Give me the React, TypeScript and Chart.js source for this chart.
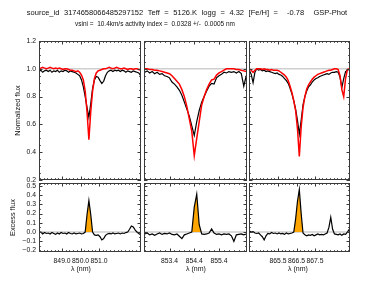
import React, { useEffect, useRef } from "react";
import { Chart, registerables } from "chart.js";

Chart.register(...registerables);

const W = 374;
const H = 281;
const FONT = "'Liberation Sans', Arial, Helvetica, sans-serif";

// ---------------- Wavelength grids (nm) ----------------
const WL_850 = [
  847.75, 847.85, 847.95, 848.05, 848.15, 848.25, 848.35, 848.45, 848.55, 848.65,
  848.75, 848.85, 848.95, 849.05, 849.15, 849.25, 849.35, 849.45, 849.55, 849.65,
  849.75, 849.85, 849.95, 850.05, 850.15, 850.25, 850.35, 850.45, 850.55, 850.65,
  850.75, 850.85, 850.95, 851.05, 851.15, 851.25, 851.35, 851.45, 851.55, 851.65,
  851.75, 851.85, 851.95, 852.05, 852.15, 852.25, 852.35, 852.45, 852.55, 852.65,
  852.75, 852.85, 852.95, 853.05, 853.15, 853.25,
];
const WL_854 = [
  852.4, 852.5, 852.6, 852.7, 852.8, 852.9, 853.0, 853.1, 853.2, 853.3,
  853.4, 853.5, 853.6, 853.7, 853.8, 853.9, 854.0, 854.1, 854.2, 854.3,
  854.4, 854.5, 854.6, 854.7, 854.8, 854.9, 855.0, 855.1, 855.2, 855.3,
  855.4, 855.5, 855.6, 855.7, 855.8, 855.9, 856.0, 856.1, 856.2, 856.3,
  856.4, 856.5,
];
const WL_866 = [
  863.95, 864.05, 864.15, 864.25, 864.35, 864.45, 864.55, 864.65, 864.75, 864.85,
  864.95, 865.05, 865.15, 865.25, 865.35, 865.45, 865.55, 865.65, 865.75, 865.85,
  865.95, 866.05, 866.15, 866.25, 866.35, 866.45, 866.55, 866.65, 866.75, 866.85,
  866.95, 867.05, 867.15, 867.25, 867.35, 867.45, 867.55, 867.65, 867.75, 867.85,
  867.95, 868.05, 868.15, 868.25, 868.35, 868.45, 868.55, 868.65, 868.75, 868.85,
  868.95, 869.05, 869.15, 869.25, 869.35, 869.45,
];

// ---------------- Normalized flux: observed (black) ----------------
const OBS_850 = [
  0.98, 0.99, 0.975, 0.985, 0.99, 0.98, 0.99, 0.975, 0.985, 0.98,
  0.99, 0.975, 0.985, 0.98, 0.99, 0.985, 0.975, 0.985, 0.98, 0.975,
  0.97, 0.96, 0.95, 0.92, 0.87, 0.80, 0.72, 0.65, 0.75, 0.86,
  0.92, 0.945, 0.94, 0.915, 0.895, 0.91, 0.95, 0.975, 0.985, 0.99,
  0.98, 0.99, 0.985, 0.99, 0.98, 0.99, 0.985, 0.975, 0.985, 0.98,
  0.975, 0.985, 0.98, 0.975, 0.97, 0.95,
];
const OBS_854 = [
  0.975, 0.985, 0.97, 0.98, 0.965, 0.975, 0.96, 0.965, 0.95, 0.945,
  0.935, 0.905, 0.89, 0.87, 0.845, 0.81, 0.76, 0.71, 0.66, 0.59,
  0.52, 0.62, 0.70, 0.76, 0.80, 0.84, 0.875, 0.895, 0.89, 0.935,
  0.95, 0.96, 0.975, 0.97, 0.98, 0.975, 0.98, 0.97, 0.98, 0.965,
  0.875, 0.95,
];
const OBS_866 = [
  0.99, 0.96, 0.90, 0.975, 1.0, 0.99, 0.995, 0.985, 0.99, 0.98,
  0.985, 0.98, 0.975, 0.97, 0.965, 0.97, 0.96, 0.955, 0.945, 0.93,
  0.915, 0.895, 0.86, 0.82, 0.77, 0.71, 0.63, 0.53, 0.63, 0.74,
  0.80, 0.84, 0.87, 0.885, 0.905, 0.92, 0.93, 0.935, 0.945, 0.95,
  0.955, 0.96, 0.965, 0.96, 0.97, 0.975, 0.975, 0.98, 0.975, 0.94,
  0.865, 0.93, 0.98, 0.99, 0.995, 1.0,
];

// ---------------- Normalized flux: model (red) ----------------
const MOD_850 = [
  1.0, 1.005, 1.01, 1.005, 1.0, 1.005, 1.01, 1.005, 1.0, 1.005,
  1.0, 1.005, 1.0, 0.995, 1.0, 1.0, 0.995, 0.99, 0.99, 0.985,
  0.98, 0.985, 0.975, 0.955, 0.92, 0.84, 0.69, 0.49, 0.69, 0.84,
  0.93, 0.97, 0.985, 0.99, 0.995, 1.0, 1.0, 1.005, 1.01, 1.005,
  1.0, 1.005, 1.01, 1.005, 1.0, 1.0, 1.005, 1.0, 0.995, 1.0,
  1.0, 0.995, 1.0, 1.0, 0.995, 0.99,
];
const MOD_854 = [
  1.0, 1.0, 0.995, 0.995, 0.99, 0.99, 0.985, 0.98, 0.975, 0.97,
  0.965, 0.95, 0.93, 0.91, 0.89, 0.85, 0.80, 0.73, 0.64, 0.55,
  0.375, 0.50, 0.62, 0.74, 0.80, 0.85, 0.89, 0.92, 0.925, 0.955,
  0.97, 0.98, 0.99, 1.0, 1.0, 1.0, 1.0, 0.995, 0.995, 0.99,
  0.985, 0.98,
];
const MOD_866 = [
  1.0, 0.99, 0.975, 0.99, 1.0, 1.0, 1.0, 0.995, 1.0, 0.995,
  0.995, 0.99, 0.995, 0.99, 0.99, 0.99, 0.985, 0.975, 0.965, 0.955,
  0.94, 0.915, 0.875, 0.83, 0.77, 0.70, 0.57, 0.37, 0.58, 0.72,
  0.80, 0.855, 0.885, 0.905, 0.925, 0.94, 0.95, 0.96, 0.965, 0.97,
  0.975, 0.98, 0.985, 0.99, 0.99, 0.995, 1.0, 1.0, 0.995, 0.95,
  0.85, 0.80, 0.93, 0.995, 1.0, 1.0,
];

// ---------------- Excess flux (black, lower panels) ----------------
const EXC_850 = [
  -0.01, 0.0, -0.02, -0.005, -0.015, -0.01, -0.02, -0.005, -0.015, -0.025,
  -0.01, -0.02, -0.005, -0.015, -0.01, -0.02, -0.005, -0.015, -0.02, -0.01,
  -0.02, -0.015, -0.01, -0.02, -0.015, 0.0, 0.19, 0.34, 0.19, 0.0,
  -0.03, -0.035, -0.03, -0.05, -0.085, -0.07, -0.035, -0.02, -0.015, -0.02,
  -0.01, -0.02, -0.015, -0.01, -0.02, -0.01, -0.015, -0.005, 0.0, 0.03,
  0.065, 0.055, 0.025, 0.0, -0.015, -0.03,
];
const EXC_854 = [
  -0.02, -0.01, -0.03, -0.02, -0.035, -0.02, -0.01, -0.025, -0.015, -0.02,
  -0.01, -0.025, -0.03, -0.02, -0.045, -0.07, -0.03, -0.02, -0.01, 0.0,
  0.27, 0.41, 0.08, -0.02, -0.025, -0.02, -0.01, 0.035, -0.01, -0.025,
  -0.02, -0.03, -0.02, -0.025, -0.02, -0.04, -0.1, -0.03, -0.025, -0.02,
  -0.03, -0.02,
];
const EXC_866 = [
  0.01, 0.0, 0.005, -0.01, -0.015, -0.01, -0.03, -0.05, -0.085, -0.04,
  -0.015, -0.02, -0.005, -0.015, -0.01, -0.02, -0.01, -0.02, -0.015, -0.025,
  -0.01, -0.02, -0.015, -0.01, 0.0, 0.14, 0.33, 0.46, 0.2, -0.01,
  -0.03, -0.04, -0.03, -0.035, -0.025, -0.04, -0.03, -0.02, -0.03, -0.025,
  -0.03, -0.02, -0.01, 0.05, 0.16, 0.03, -0.02, -0.025, -0.03, -0.02,
  -0.035, -0.02, -0.025, 0.0, 0.03, 0.03,
];

// Emission-core windows (nm) shaded in orange
const CORE_850 = [850.2, 850.7];
const CORE_854 = [854.25, 854.75];
const CORE_866 = [866.3, 866.9];

// ---------------- Axes ----------------
const X_RANGE_850 = [847.75, 853.27];
const X_RANGE_854 = [852.37, 856.53];
const X_RANGE_866 = [863.93, 869.39];
const X_TICKS_850 = [849.0, 850.0, 851.0];
const X_TICKS_854 = [853.4, 854.4, 855.4];
const X_TICKS_866 = [865.5, 866.5, 867.5];
const Y_RANGE_FLUX = [0.2, 1.2];
const Y_TICKS_FLUX = [0.2, 0.4, 0.6, 0.8, 1.0, 1.2];
const Y_RANGE_EXC = [-0.215, 0.53];
const Y_TICKS_EXC = [-0.2, -0.1, 0.0, 0.1, 0.2, 0.3, 0.4, 0.5];
const FLUX_REF = 1.0;
const EXC_REF = 0.0;

const TITLE_1 = "source_id 3174658066485297152 Teff = 5126.K logg = 4.32 [Fe/H] =  -0.78  GSP-Phot";
const TITLE_2 = "vsini =  10.4km/s activity index =  0.0328 +/-  0.0005 nm";
const Y_TITLE_TOP = "Normalized flux";
const Y_TITLE_BOT = "Excess flux";
const X_TITLE = "λ (nm)";

// ---------------- Layout (pixels) ----------------
const COLS = [
  [39, 141],
  [144, 247],
  [249, 350],
];
const ROW_TOP = [41, 180];
const ROW_BOT = [183, 252];
const TICK_FONT = 6.8;

type TextItem = { text: string; x: number; y: number; size: number; rot?: number; align?: string; ws?: number; maxW?: number };

const decoPlugin = {
  id: "deco",
  afterDraw(chart: any, _args: any, opts: any) {
    const { ctx, chartArea: a, scales } = chart;
    const xs = scales.x;
    const ys = scales.y;
    ctx.save();
    ctx.strokeStyle = "#3a3a3a";
    ctx.lineWidth = 1;
    ctx.strokeRect(a.left + 0.5, a.top + 0.5, a.right - a.left - 1, a.bottom - a.top - 1);
    const line = (x1: number, y1: number, x2: number, y2: number) => {
      ctx.beginPath();
      ctx.moveTo(x1, y1);
      ctx.lineTo(x2, y2);
      ctx.stroke();
    };
    // x ticks (inward, top and bottom)
    const xMaj: number[] = opts.xTicks;
    const xStep = 0.2;
    const x0 = xMaj[0];
    for (let k = -40; k <= 40; k++) {
      const v = x0 + k * xStep;
      if (v < xs.min || v > xs.max) continue;
      const major = xMaj.some((m: number) => Math.abs(m - v) < 1e-6);
      const len = major ? 3.5 : 1.8;
      const px = Math.round(xs.getPixelForValue(v)) + 0.5;
      line(px, a.bottom, px, a.bottom - len);
      line(px, a.top, px, a.top + len);
    }
    // y ticks (inward, left and right)
    const yMaj: number[] = opts.yTicks;
    const yStep = opts.yMinor;
    const y0 = yMaj[0];
    for (let k = -40; k <= 60; k++) {
      const v = y0 + k * yStep;
      if (v < ys.min - 1e-9 || v > ys.max + 1e-9) continue;
      const major = yMaj.some((m: number) => Math.abs(m - v) < 1e-6);
      const len = major ? 3.5 : 1.8;
      const py = Math.round(ys.getPixelForValue(v)) + 0.5;
      line(a.left, py, a.left + len, py);
      line(a.right, py, a.right - len, py);
    }
    // texts
    ctx.fillStyle = "#111";
    ctx.textBaseline = "middle";
    (opts.texts || []).forEach((t: TextItem) => {
      ctx.save();
      ctx.font = `${t.size}px ${FONT}`;
      ctx.textAlign = (t.align as CanvasTextAlign) || "center";
      if (t.ws !== undefined) (ctx as any).wordSpacing = `${t.ws}px`;
      ctx.translate(t.x, t.y);
      if (t.rot) ctx.rotate(t.rot);
      if (t.maxW) ctx.fillText(t.text, 0, 0, t.maxW);
      else ctx.fillText(t.text, 0, 0);
      ctx.restore();
    });
    ctx.restore();
  },
};

const fmt = (v: number) => {
  const s = Number(v).toFixed(1);
  return s.startsWith("-") ? "\u2212" + s.slice(1) : s;
};

type Spec = {
  wl: number[];
  lines: { y: number[]; color: string; width: number }[];
  ref: number;
  core?: number[];
  fillY?: number[];
  xRange: number[];
  xTicks: number[];
  showX: boolean;
  yRange: number[];
  yTicks: number[];
  yMinor: number;
  showY: boolean;
  col: number[];
  row: number[];
  texts?: TextItem[];
};

function makeConfig(s: Spec): any {
  const datasets: any[] = [];
  s.lines.forEach((l) => {
    datasets.push({
      data: s.wl.map((x, i) => ({ x, y: l.y[i] })),
      borderColor: l.color,
      borderWidth: l.width,
      pointRadius: 0,
      tension: 0,
      fill: false,
    });
  });
  if (s.core && s.fillY) {
    const pts = s.wl
      .map((x, i) => ({ x, y: s.fillY![i] }))
      .filter((p) => p.x >= s.core![0] && p.x <= s.core![1]);
    datasets.push({
      data: pts,
      borderWidth: 0,
      borderColor: "rgba(0,0,0,0)",
      backgroundColor: "#ffa500",
      pointRadius: 0,
      tension: 0,
      fill: "origin",
    });
  }
  datasets.push({
    data: [
      { x: s.xRange[0], y: s.ref },
      { x: s.xRange[1], y: s.ref },
    ],
    borderColor: "#cfcfcf",
    borderWidth: 1.5,
    pointRadius: 0,
    fill: false,
  });

  const axisW = s.col[0];
  const axisH = H - s.row[1];

  return {
    type: "line",
    data: { datasets },
    options: {
      responsive: false,
      animation: false,
      devicePixelRatio: 1,
      events: [],
      layout: {
        autoPadding: false,
        padding: { left: 0, right: W - s.col[1], top: s.row[0], bottom: 0 },
      },
      plugins: {
        legend: { display: false },
        tooltip: { enabled: false },
        title: { display: false },
        deco: { xTicks: s.xTicks, yTicks: s.yTicks, yMinor: s.yMinor, texts: s.texts || [] },
      },
      scales: {
        x: {
          type: "linear",
          min: s.xRange[0],
          max: s.xRange[1],
          grid: { display: false, drawTicks: false },
          border: { display: false },
          afterBuildTicks: (sc: any) => {
            sc.ticks = s.xTicks.map((v) => ({ value: v }));
          },
          afterFit: (sc: any) => {
            sc.height = axisH;
            sc.paddingLeft = 0;
            sc.paddingRight = 0;
          },
          ticks: {
            display: s.showX,
            autoSkip: false,
            maxRotation: 0,
            padding: 4.8,
            color: "#111",
            font: { family: FONT, size: TICK_FONT },
            callback: (v: any) => fmt(v),
          },
        },
        y: {
          type: "linear",
          min: s.yRange[0],
          max: s.yRange[1],
          grid: { display: false, drawTicks: false },
          border: { display: false },
          afterBuildTicks: (sc: any) => {
            sc.ticks = s.yTicks.map((v) => ({ value: v }));
          },
          afterFit: (sc: any) => {
            sc.width = axisW;
            sc.paddingTop = 0;
            sc.paddingBottom = 0;
          },
          ticks: {
            display: s.showY,
            autoSkip: false,
            padding: 3,
            color: "#111",
            font: { family: FONT, size: TICK_FONT },
            callback: (v: any) => fmt(v),
          },
        },
      },
    },
    plugins: [decoPlugin],
  };
}

const RED = "#ff0000";
const BLACK = "#000000";

const SPECS: Spec[] = [
  {
    wl: WL_850, lines: [ { y: MOD_850, color: RED, width: 1.5 }, { y: OBS_850, color: BLACK, width: 1.2 } ],
    ref: FLUX_REF, xRange: X_RANGE_850, xTicks: X_TICKS_850, showX: false,
    yRange: Y_RANGE_FLUX, yTicks: Y_TICKS_FLUX, yMinor: 0.05, showY: true, col: COLS[0], row: ROW_TOP,
    texts: [
      { text: TITLE_1, x: 187, y: 13, size: 7.5, ws: 2.5 },
      { text: TITLE_2, x: 155, y: 24, size: 7.3, maxW: 160 },
      { text: Y_TITLE_TOP, x: 18, y: 110.5, size: 7.3, rot: -Math.PI / 2 },
      { text: Y_TITLE_BOT, x: 13, y: 217.5, size: 7.3, rot: -Math.PI / 2 },
      { text: X_TITLE, x: 81, y: 269.5, size: 7 },
      { text: X_TITLE, x: 196, y: 269.5, size: 7 },
      { text: X_TITLE, x: 298, y: 269.5, size: 7 },
    ],
  },
  {
    wl: WL_854, lines: [ { y: MOD_854, color: RED, width: 1.5 }, { y: OBS_854, color: BLACK, width: 1.2 } ],
    ref: FLUX_REF, xRange: X_RANGE_854, xTicks: X_TICKS_854, showX: false,
    yRange: Y_RANGE_FLUX, yTicks: Y_TICKS_FLUX, yMinor: 0.05, showY: false, col: COLS[1], row: ROW_TOP,
  },
  {
    wl: WL_866, lines: [ { y: MOD_866, color: RED, width: 1.5 }, { y: OBS_866, color: BLACK, width: 1.2 } ],
    ref: FLUX_REF, xRange: X_RANGE_866, xTicks: X_TICKS_866, showX: false,
    yRange: Y_RANGE_FLUX, yTicks: Y_TICKS_FLUX, yMinor: 0.05, showY: false, col: COLS[2], row: ROW_TOP,
  },
  {
    wl: WL_850, lines: [ { y: EXC_850, color: BLACK, width: 1.2 } ], core: CORE_850, fillY: EXC_850,
    ref: EXC_REF, xRange: X_RANGE_850, xTicks: X_TICKS_850, showX: true,
    yRange: Y_RANGE_EXC, yTicks: Y_TICKS_EXC, yMinor: 0.05, showY: true, col: COLS[0], row: ROW_BOT,
  },
  {
    wl: WL_854, lines: [ { y: EXC_854, color: BLACK, width: 1.2 } ], core: CORE_854, fillY: EXC_854,
    ref: EXC_REF, xRange: X_RANGE_854, xTicks: X_TICKS_854, showX: true,
    yRange: Y_RANGE_EXC, yTicks: Y_TICKS_EXC, yMinor: 0.05, showY: false, col: COLS[1], row: ROW_BOT,
  },
  {
    wl: WL_866, lines: [ { y: EXC_866, color: BLACK, width: 1.2 } ], core: CORE_866, fillY: EXC_866,
    ref: EXC_REF, xRange: X_RANGE_866, xTicks: X_TICKS_866, showX: true,
    yRange: Y_RANGE_EXC, yTicks: Y_TICKS_EXC, yMinor: 0.05, showY: false, col: COLS[2], row: ROW_BOT,
  },
];

export default function App() {
  const refs = useRef<(HTMLCanvasElement | null)[]>([]);
  useEffect(() => {
    const charts = SPECS.map((s, i) => new Chart(refs.current[i] as HTMLCanvasElement, makeConfig(s)));
    return () => charts.forEach((c) => c.destroy());
  }, []);
  return (
    <div style={{ position: "fixed", left: 0, top: 0, width: W, height: H, background: "#fff", overflow: "hidden" }}>
      {SPECS.map((_, i) => (
        <canvas
          key={i}
          ref={(el) => {
            refs.current[i] = el;
          }}
          width={W}
          height={H}
          style={{ position: "absolute", left: 0, top: 0, width: W, height: H }}
        />
      ))}
    </div>
  );
}
